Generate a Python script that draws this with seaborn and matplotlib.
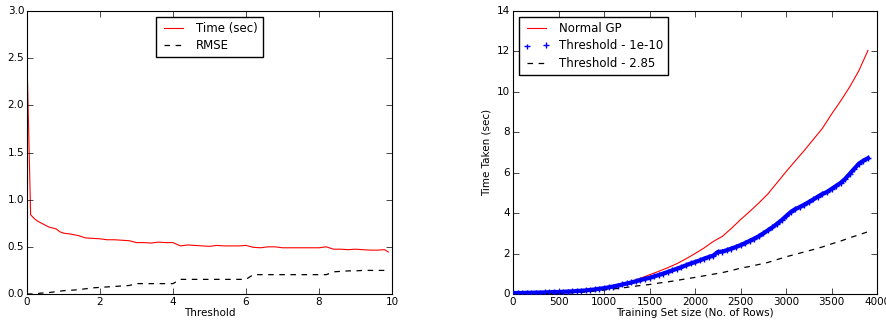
import matplotlib
matplotlib.use('Agg')
import matplotlib.pyplot as plt
import seaborn as sns

# Left panel: time and RMSE vs threshold
threshold = [0, 0.1, 0.2, 0.3, 0.4, 0.5, 0.6, 0.7, 0.8, 0.9, 1.0,
             1.2, 1.4, 1.6, 1.8, 2.0, 2.2, 2.4, 2.6, 2.8, 3.0, 3.2, 3.4, 3.6, 3.8,
             4.0, 4.2, 4.4, 4.6, 4.8, 5.0, 5.2, 5.4, 5.6, 5.8, 6.0, 6.2, 6.4, 6.6,
             6.8, 7.0, 7.2, 7.4, 7.6, 7.8, 8.0, 8.2, 8.4, 8.6, 8.8, 9.0, 9.2, 9.4,
             9.6, 9.8, 9.9]
time_sec = [2.50, 0.84, 0.80, 0.77, 0.75, 0.73, 0.71, 0.70, 0.69, 0.66, 0.645,
            0.635, 0.62, 0.595, 0.59, 0.585, 0.575, 0.575, 0.57, 0.565, 0.545,
            0.545, 0.54, 0.55, 0.545, 0.545, 0.51, 0.52, 0.515, 0.51, 0.505,
            0.515, 0.51, 0.51, 0.51, 0.515, 0.495, 0.49, 0.50, 0.50, 0.49, 0.49,
            0.49, 0.49, 0.49, 0.49, 0.50, 0.475, 0.475, 0.47, 0.475, 0.47, 0.465,
            0.465, 0.47, 0.445]
rmse = [0.0, 0.0, 0.0, 0.005, 0.01, 0.01, 0.015, 0.02, 0.025, 0.03, 0.035,
        0.04, 0.045, 0.055, 0.065, 0.07, 0.075, 0.08, 0.085, 0.09, 0.11,
        0.11, 0.11, 0.11, 0.11, 0.11, 0.155, 0.155, 0.155, 0.155, 0.155,
        0.155, 0.155, 0.155, 0.155, 0.155, 0.205, 0.205, 0.205, 0.205, 0.205,
        0.205, 0.205, 0.205, 0.205, 0.205, 0.205, 0.235, 0.24, 0.245, 0.245,
        0.25, 0.25, 0.25, 0.25, 0.275]

# Right panel: time taken vs training set size
rows = list(range(0, 4000, 100))
normal_gp = [0.05, 0.05, 0.06, 0.07, 0.08, 0.10, 0.12, 0.15, 0.19, 0.24,
             0.30, 0.38, 0.50, 0.62, 0.78, 0.95, 1.12, 1.30, 1.50, 1.74,
             2.00, 2.28, 2.60, 2.85, 3.25, 3.68, 4.08, 4.50, 4.95, 5.50,
             6.05, 6.58, 7.10, 7.65, 8.20, 8.90, 9.55, 10.25, 11.05, 12.05]
thr_285 = [0.0, 0.01, 0.01, 0.02, 0.03, 0.04, 0.06, 0.08, 0.11, 0.15,
           0.20, 0.25, 0.30, 0.36, 0.42, 0.47, 0.54, 0.60, 0.67, 0.75,
           0.82, 0.90, 0.98, 1.06, 1.16, 1.28, 1.36, 1.46, 1.56, 1.70,
           1.84, 1.96, 2.08, 2.20, 2.33, 2.48, 2.62, 2.78, 2.93, 3.08]
rows_fine = list(range(0, 3950, 50))
thr_1e10 = [0.05, 0.05, 0.05, 0.06, 0.06, 0.07, 0.07, 0.08, 0.09, 0.10,
            0.10, 0.11, 0.12, 0.13, 0.15, 0.16, 0.18, 0.20, 0.23, 0.26,
            0.29, 0.33, 0.37, 0.42, 0.47, 0.52, 0.57, 0.63, 0.69, 0.75,
            0.80, 0.87, 0.94, 1.01, 1.09, 1.17, 1.25, 1.33, 1.42, 1.51,
            1.58, 1.66, 1.75, 1.83, 1.90, 2.08, 2.10, 2.17, 2.25, 2.33,
            2.42, 2.52, 2.63, 2.74, 2.86, 3.00, 3.15, 3.30, 3.47, 3.65,
            3.85, 4.05, 4.20, 4.30, 4.42, 4.55, 4.68, 4.82, 4.95, 5.05,
            5.20, 5.35, 5.50, 5.70, 5.95, 6.20, 6.45, 6.60, 6.72]

plt.style.use('classic')
plt.rcParams.update({
    'font.family': 'DejaVu Sans',
    'font.size': 7.5,
    'xtick.labelsize': 7.5,
    'ytick.labelsize': 7.5,
    'axes.labelsize': 7.5,
    'legend.fontsize': 8.5,
    'figure.facecolor': 'white',
    'savefig.facecolor': 'white',
    'axes.linewidth': 0.8,
})

fig = plt.figure(figsize=(8.87, 3.23), dpi=100)
ax1 = fig.add_axes([0.0304, 0.0898, 0.4115, 0.876])
ax2 = fig.add_axes([0.5784, 0.0898, 0.4104, 0.876])

dash = (4, 4)

sns.lineplot(x=threshold, y=time_sec, ax=ax1, color='r', linewidth=0.8,
             label='Time (sec)')
sns.lineplot(x=threshold, y=rmse, ax=ax1, color='k', linewidth=0.9,
             dashes=dash, label='RMSE')
ax1.set_xlim(0, 10)
ax1.set_ylim(0, 3)
ax1.set_xlabel('Threshold', labelpad=1)
ax1.legend(loc='upper center', fancybox=False, borderaxespad=0.5,
           handlelength=2.2, labelspacing=0.4)

sns.lineplot(x=rows, y=normal_gp, ax=ax2, color='r', linewidth=0.8,
             label='Normal GP')
# dense band of '+' markers: thick line under the markers fills the gaps
sns.lineplot(x=rows_fine, y=thr_1e10, ax=ax2, color='b', linewidth=3.0,
             legend=False, zorder=2)
sns.scatterplot(x=rows_fine, y=thr_1e10, ax=ax2, color='b', marker='+',
                s=16, linewidth=1.0, label='Threshold - 1e-10', zorder=3)
sns.lineplot(x=rows, y=thr_285, ax=ax2, color='k', linewidth=0.9,
             dashes=dash, label='Threshold - 2.85')
ax2.set_xlim(0, 4000)
ax2.set_ylim(0, 14)
ax2.set_xlabel('Training Set size (No. of Rows)', labelpad=1)
ax2.set_ylabel('Time Taken (sec)', labelpad=4)
ax2.legend(loc='upper left', fancybox=False, borderaxespad=0.5,
           handlelength=2.2, labelspacing=0.4, scatterpoints=2)

for ax in (ax1, ax2):
    ax.tick_params(direction='in', top=True, right=True, length=4, pad=2)

fig.savefig('out.png', dpi=100)
